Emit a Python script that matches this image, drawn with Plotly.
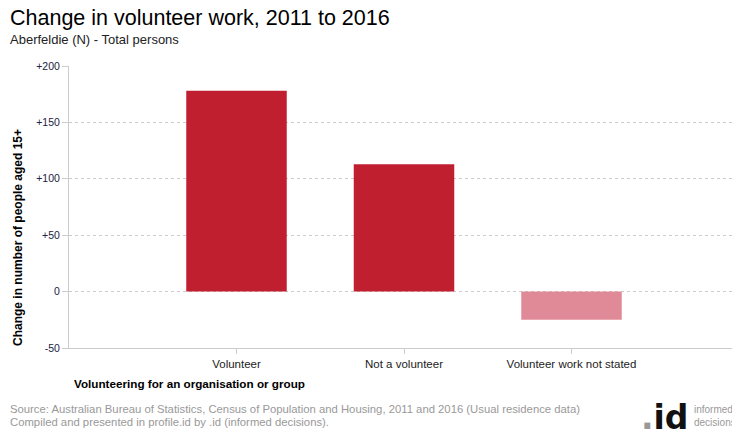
import plotly.graph_objects as go

categories = ["Volunteer", "Not a volunteer", "Volunteer work not stated"]
change = [178, 113, -25]
bar_colors = ["#C01F2F", "#C01F2F", "#E18A97"]
y_tick_vals = [-50, 0, 50, 100, 150, 200]
y_tick_text = ["-50", "0", "+50", "+100", "+150", "+200"]

FONT = "Liberation Sans, Arial, sans-serif"
# the page body adds an 8px margin, so the figure is drawn 8px smaller
OFF = 8
W, H = 740 - OFF, 440 - OFF
PLOT_L, PLOT_R, PLOT_T, PLOT_B = 69, 739, 66, 348


def px(x, y):
    """Page pixel position -> paper fractions."""
    return ((x - PLOT_L) / (PLOT_R - PLOT_L), (PLOT_B - y) / (PLOT_B - PLOT_T))


fig = go.Figure(go.Bar(
    x=list(range(len(categories))),
    y=change,
    width=0.6,
    marker={"color": bar_colors, "line": {"width": 0}},
    customdata=categories,
    hovertemplate="%{customdata}: %{y:+d}<extra></extra>",
))

fig.update_xaxes(
    range=[-1, 3],
    tickvals=list(range(len(categories))),
    ticktext=categories,
    ticks="outside",
    ticklen=5,
    tickcolor="#cccccc",
    showline=True,
    linecolor="#cccccc",
    showgrid=False,
    zeroline=False,
    tickfont={"size": 11.5, "color": "#222222"},
)
fig.update_yaxes(
    range=[-50, 200],
    tickvals=y_tick_vals,
    ticktext=y_tick_text,
    ticks="outside",
    ticklen=6,
    tickcolor="#cccccc",
    showline=True,
    linecolor="#cccccc",
    showgrid=True,
    gridcolor="#cccccc",
    griddash="3px,3px",
    gridwidth=1,
    zeroline=False,
    tickfont={"size": 10.5, "color": "#222244"},
)

texts = [
    ("Change in volunteer work, 2011 to 2016", 8, 18, 21.5, "#000000"),
    ("Aberfeldie (N) - Total persons", 8, 39, 13, "#222222"),
    ("<b>Volunteering for an organisation or group</b>", 72, 383, 11.7, "#000000"),
    ("Source: Australian Bureau of Statistics, Census of Population and Housing, 2011 and 2016 (Usual residence data)",
     8, 409, 11.3, "#999999"),
    ("Compiled and presented in profile.id by .id (informed decisions).", 8, 422, 11.3, "#999999"),
]
annotations = []
for text, x, y, size, color in texts:
    ax, ay = px(x, y)
    annotations.append({
        "text": text, "x": ax, "y": ay, "xref": "paper", "yref": "paper",
        "xanchor": "left", "yanchor": "middle", "showarrow": False,
        "font": {"size": size, "color": color, "family": FONT},
    })

yt_x, yt_y = px(18, 238)
annotations.append({
    "text": "<b>Change in number of people aged 15+</b>", "x": yt_x, "y": yt_y,
    "xref": "paper", "yref": "paper", "xanchor": "center", "yanchor": "middle",
    "textangle": -90, "showarrow": False,
    "font": {"size": 12, "color": "#000000", "family": FONT},
})

# logo: ".id informed decisions"
lx, ly = px(690, 417)
annotations.append({
    "text": "<b><span style='color:#999999'>.</span>id</b>", "x": lx, "y": ly,
    "xref": "paper", "yref": "paper",
    "xanchor": "right", "yanchor": "middle", "showarrow": False,
    "font": {"size": 33, "color": "#111111", "family": "DejaVu Sans, sans-serif"},
})
ix, iy = px(692, 416)
annotations.append({
    "text": "informed<br>decisions", "x": ix, "y": iy, "xref": "paper", "yref": "paper",
    "xanchor": "left", "yanchor": "middle", "showarrow": False, "align": "left",
    "font": {"size": 10, "color": "#999999", "family": FONT},
})

fig.update_layout(
    width=W,
    height=H,
    margin={"l": PLOT_L - OFF, "r": W - (PLOT_R - OFF), "t": PLOT_T - OFF, "b": H - (PLOT_B - OFF)},
    paper_bgcolor="white",
    plot_bgcolor="white",
    font={"family": FONT},
    showlegend=False,
    annotations=annotations,
)

fig.write_html("out.html")
